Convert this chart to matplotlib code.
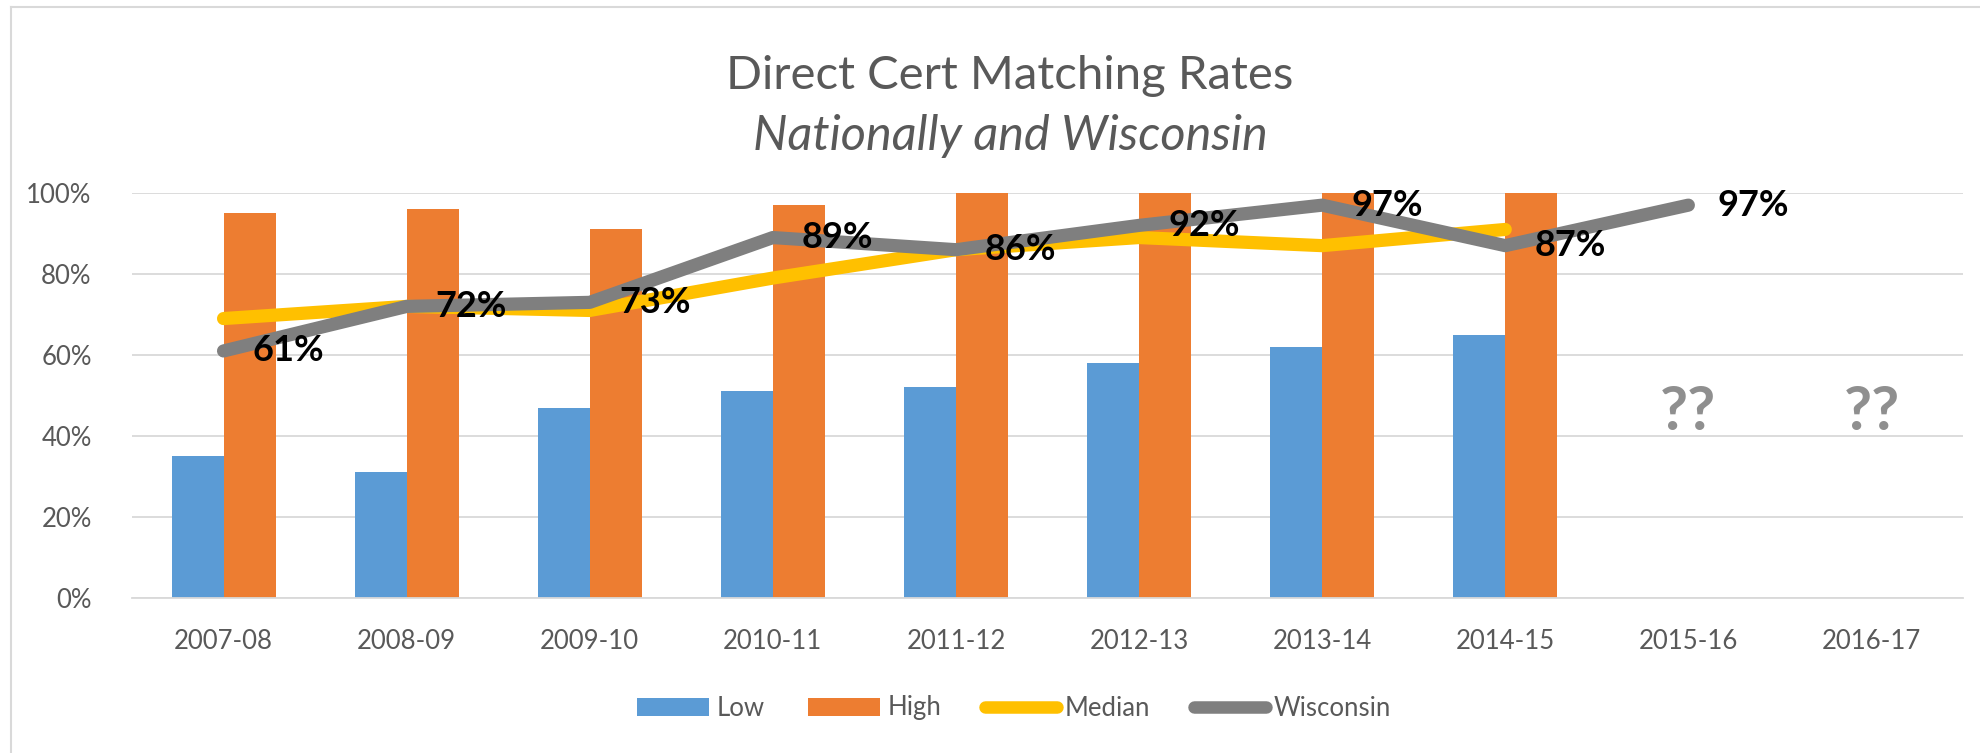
import matplotlib
matplotlib.use("Agg")
import matplotlib.pyplot as plt
from matplotlib.lines import Line2D
import numpy as np

categories = ["2007-08", "2008-09", "2009-10", "2010-11", "2011-12",
              "2012-13", "2013-14", "2014-15", "2015-16", "2016-17"]
low = [35, 31, 47, 51, 52, 58, 62, 65]
high = [95, 96, 91, 97, 100, 100, 100, 100]
median = [69, 72, 71, 79, 86, 89, 87, 91]
wisconsin = [61, 72, 73, 89, 86, 92, 97, 87, 97]
wisconsin_labels = ["61%", "72%", "73%", "89%", "86%", "92%", "97%", "87%", "97%"]
unknown_cats = ["2015-16", "2016-17"]
unknown_text = "??"
unknown_y = 46

BLUE = "#5B9BD5"
ORANGE = "#ED7D31"
YELLOW = "#FFC000"
GREY = "#7F7F7F"
TXT = "#595959"
GRID = "#D9D9D9"

plt.rcParams['font.family'] = ['Lato', 'DejaVu Sans']

W, H = 1980, 753
fig = plt.figure(figsize=(W / 100, H / 100), dpi=100)
ax = fig.add_axes([132 / W, 1 - 598 / H, (1963 - 132) / W, (598 - 193) / H])

x = np.arange(len(categories))
bw = 0.284
h_low = ax.bar(x[:len(low)] - bw / 2, low, width=bw, color=BLUE, label="Low", zorder=2)
h_high = ax.bar(x[:len(high)] + bw / 2, high, width=bw, color=ORANGE, label="High", zorder=2)
h_med, = ax.plot(x[:len(median)], median, color=YELLOW, lw=9.5, solid_capstyle='round',
                 solid_joinstyle='round', label="Median", zorder=3)
h_wi, = ax.plot(x[:len(wisconsin)], wisconsin, color=GREY, lw=9.5, solid_capstyle='round',
                solid_joinstyle='round', label="Wisconsin", zorder=4)

for xi, yi, lab in zip(x, wisconsin, wisconsin_labels):
    ax.annotate(lab, (xi, yi), xytext=(21, 0), textcoords='offset points',
                ha='left', va='center', fontsize=26, fontweight='bold',
                color='black', zorder=5)

for c in unknown_cats:
    ax.text(categories.index(c), unknown_y, unknown_text, ha='center', va='center',
            fontsize=44, fontweight='bold', color="#8F8F8F", zorder=5)

ax.set_xlim(-0.5, len(categories) - 0.5)
ax.set_ylim(0, 100)
ax.set_yticks(range(0, 101, 20))
ax.set_yticklabels([f"{v}%" for v in range(0, 101, 20)])
ax.set_xticks(x)
ax.set_xticklabels(categories)
ax.tick_params(axis='both', length=0, labelsize=18.5, colors=TXT)
ax.tick_params(axis='y', pad=29)
ax.tick_params(axis='x', pad=22)
ax.yaxis.grid(True, color=GRID, lw=1.3, zorder=0)
ax.set_axisbelow(True)
for s in ["top", "right", "left"]:
    ax.spines[s].set_visible(False)
ax.spines["bottom"].set_color(GRID)
ax.spines["bottom"].set_linewidth(1.3)

fig.text(1010 / W, 1 - 76 / H, "Direct Cert Matching Rates", ha='center', va='center',
         fontsize=34, color=TXT)
fig.text(1010 / W, 1 - 136 / H, "Nationally and Wisconsin", ha='center', va='center',
         fontsize=35, color=TXT, style='italic')

leg = fig.legend([h_low, h_high, h_med, h_wi], ["Low", "High", "Median", "Wisconsin"],
                 loc='center', bbox_to_anchor=(1014 / W, 1 - 708 / H),
                 ncol=4, frameon=False, fontsize=18.5, handlelength=2.8,
                 handletextpad=0.3, columnspacing=1.7, labelcolor=TXT)
for h in leg.legend_handles:
    if isinstance(h, Line2D):
        h.set_linewidth(9)
        h.set_solid_capstyle('round')

fig.add_artist(Line2D([11 / W, 11 / W], [0, 1 - 7 / H], color=GRID, lw=1.5))
fig.add_artist(Line2D([11 / W, 1], [1 - 7 / H, 1 - 7 / H], color=GRID, lw=1.5))

fig.savefig("out.png", dpi=100)
